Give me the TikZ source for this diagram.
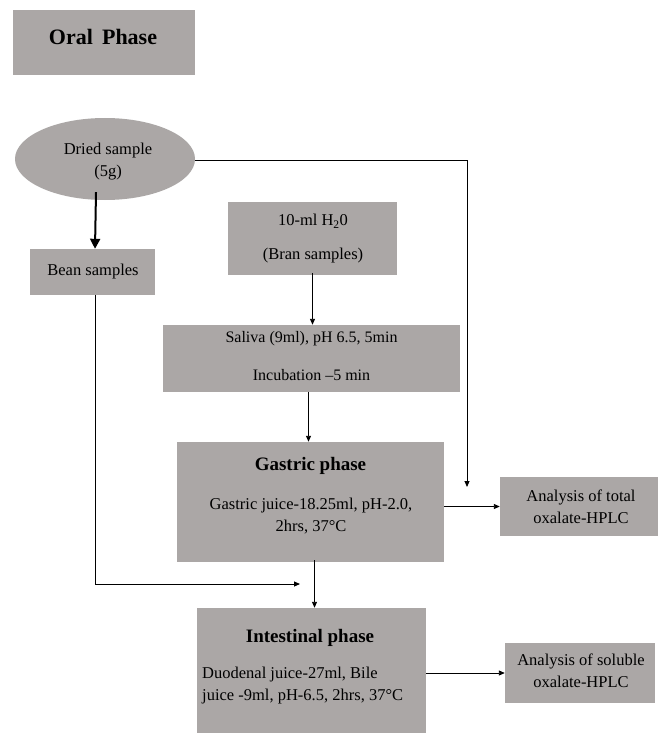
\documentclass[tikz,border=0pt]{standalone}
\usepackage{fontspec}
\setmainfont{Liberation Serif}
\usetikzlibrary{shapes.geometric,arrows.meta}
\definecolor{boxgray}{RGB}{171,167,166}
\tikzset{
  box/.style={fill=boxgray, draw=none, inner sep=0pt},
  txt/.style={inner sep=0pt, font=\fontsize{16.5}{22}\selectfont, align=center},
  head/.style={inner sep=0pt, font=\fontsize{19}{22}\selectfont\bfseries, align=center},
  arr/.style={draw=black, line width=0.9pt, -{Triangle[length=6pt,width=5pt]}},
  thickarr/.style={draw=black, line width=2pt, -{Triangle[length=10pt,width=10pt]}},
  ln/.style={draw=black, line width=0.9pt}
}
\begin{document}
\begin{tikzpicture}[x=1pt,y=-1pt]
\useasboundingbox (0,0) rectangle (658,733);
% boxes
\node[box, minimum width=182, minimum height=65] (oral) at (104,42.5) {};
\node[head, font=\fontsize{22}{24}\selectfont\bfseries] (oralt) at (103,37) {Oral\, Phase};
\node[box, ellipse, minimum width=180, minimum height=82] (dried) at (105,159) {};
\node[txt] (driedt) at (108,162) {Dried sample\\(5g)};
\node[box, minimum width=125, minimum height=46] (bean) at (92.5,272) {};
\node[txt] (beant) at (93,272) {Bean samples};
\node[box, minimum width=169, minimum height=73] (water) at (312.5,238.5) {};
\node[txt] (watert1) at (313,221) {10-ml H\textsubscript{2}0};
\node[txt] (watert2) at (313,256) {(Bran samples)};
\node[box, minimum width=297, minimum height=67] (saliva) at (311.5,358.5) {};
\node[txt, font=\fontsize{16}{22}\selectfont] (salivat1) at (311.5,339) {Saliva (9ml), pH 6.5, 5min};
\node[txt, font=\fontsize{16}{22}\selectfont] (salivat2) at (311.5,375) {Incubation \textendash5 min};
\node[box, minimum width=267, minimum height=120] (gastric) at (310.5,502) {};
\node[head] (gastrict1) at (310.5,466) {Gastric phase};
\node[txt] (gastrict2) at (311,516) {Gastric juice-18.25ml, pH-2.0,\\2hrs, 37°C};
\node[box, minimum width=158, minimum height=59] (total) at (579,506.5) {};
\node[txt] (totalt) at (581,506.5) {Analysis of total\\oxalate-HPLC};
\node[box, minimum width=229, minimum height=125] (intest) at (311.5,670.5) {};
\node[head] (intestt1) at (310,638) {Intestinal phase};
\node[txt, align=left, anchor=west] (intestt2) at (202,686) {Duodenal juice-27ml, Bile\\juice -9ml, pH-6.5, 2hrs, 37°C};
\node[box, minimum width=150, minimum height=60] (soluble) at (580,673) {};
\node[txt] (solublet) at (581,671) {Analysis of soluble\\oxalate-HPLC};
% coordinates
\coordinate (topright) at (467,160);
\coordinate (totalin) at (467,487);
\coordinate (beancorner) at (95,584);
\coordinate (beanend) at (300,584);
% connectors
\draw[ln] (dried.east |- topright) -- (topright);
\draw[arr] (topright) -- (totalin);
\draw[thickarr] ([xshift=-9pt,yshift=8pt]dried.south) -- ([xshift=2.5pt]bean.north);
\draw[ln] ([xshift=2.5pt]bean.south) -- (beancorner);
\draw[arr] (beancorner) -- (beanend);
\draw[arr] ([yshift=2pt]water.south) -- (water.south |- saliva.north);
\draw[arr] ([xshift=-3pt]saliva.south) -- ([xshift=-3pt]saliva.south |- gastric.north);
\draw[arr] (gastric.east |- total.west) -- (total.west);
\draw[arr] ([xshift=4pt,yshift=2pt]gastric.south) -- ([xshift=4pt]gastric.south |- intest.north);
\draw[arr] (intest.east |- soluble.west) -- (soluble.west);
\end{tikzpicture}
\end{document}
